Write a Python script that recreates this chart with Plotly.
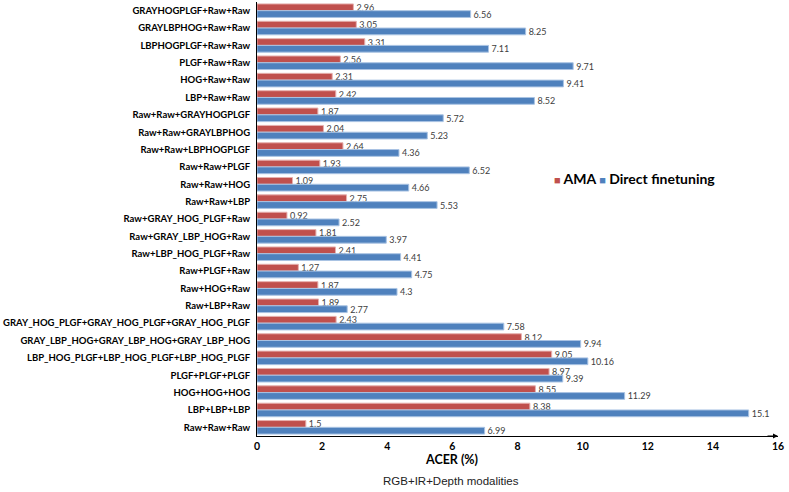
import plotly.graph_objects as go

# combinations, top to bottom as in the figure
combos = [
    'GRAYHOGPLGF+Raw+Raw', 'GRAYLBPHOG+Raw+Raw', 'LBPHOGPLGF+Raw+Raw',
    'PLGF+Raw+Raw', 'HOG+Raw+Raw', 'LBP+Raw+Raw',
    'Raw+Raw+GRAYHOGPLGF', 'Raw+Raw+GRAYLBPHOG', 'Raw+Raw+LBPHOGPLGF',
    'Raw+Raw+PLGF', 'Raw+Raw+HOG', 'Raw+Raw+LBP',
    'Raw+GRAY_HOG_PLGF+Raw', 'Raw+GRAY_LBP_HOG+Raw', 'Raw+LBP_HOG_PLGF+Raw',
    'Raw+PLGF+Raw', 'Raw+HOG+Raw', 'Raw+LBP+Raw',
    'GRAY_HOG_PLGF+GRAY_HOG_PLGF+GRAY_HOG_PLGF',
    'GRAY_LBP_HOG+GRAY_LBP_HOG+GRAY_LBP_HOG',
    'LBP_HOG_PLGF+LBP_HOG_PLGF+LBP_HOG_PLGF',
    'PLGF+PLGF+PLGF', 'HOG+HOG+HOG', 'LBP+LBP+LBP', 'Raw+Raw+Raw',
]
ama = [2.96, 3.05, 3.31, 2.56, 2.31, 2.42, 1.87, 2.04, 2.64, 1.93, 1.09, 2.75,
       0.92, 1.81, 2.41, 1.27, 1.87, 1.89, 2.43, 8.12, 9.05, 8.97, 8.55, 8.38, 1.5]
direct = [6.56, 8.25, 7.11, 9.71, 9.41, 8.52, 5.72, 5.23, 4.36, 6.52, 4.66, 5.53,
          2.52, 3.97, 4.41, 4.75, 4.3, 2.77, 7.58, 9.94, 10.16, 9.39, 11.29, 15.1, 6.99]
x_ticks = [0, 2, 4, 6, 8, 10, 12, 14, 16]

red = '#C0504D'
blue = '#4F81BD'
val_font = dict(family='Lato', size=9, color='#404040')

fig = go.Figure()
fig.add_trace(go.Bar(y=combos, x=ama, orientation='h', name='AMA',
                     marker=dict(color=red, line=dict(color='#E6B0AE', width=1)),
                     text=[str(v) for v in ama], textposition='outside',
                     constraintext='none', textfont=val_font, outsidetextfont=val_font,
                     cliponaxis=False))
fig.add_trace(go.Bar(y=combos, x=direct, orientation='h', name='Direct finetuning',
                     marker=dict(color=blue, line=dict(color='#A9C3E3', width=1)),
                     text=[str(v) for v in direct], textposition='outside',
                     constraintext='none', textfont=val_font, outsidetextfont=val_font,
                     cliponaxis=False))

fig.update_layout(
    width=789, height=492,
    margin=dict(l=257, r=11, t=2, b=56),
    plot_bgcolor='white', paper_bgcolor='white',
    barmode='group', bargap=0.22, bargroupgap=0,
    font=dict(family='Lato', color='#000000'),
    showlegend=False,
    xaxis=dict(range=[0, 16], tickvals=x_ticks, showgrid=False, zeroline=False,
               showline=True, linecolor='#000000', linewidth=1, ticks='',
               automargin=False,
               tickfont=dict(family='Lato', size=10.5, weight='bold')),
    yaxis=dict(autorange='reversed', showgrid=False, showline=True, linecolor='#000000',
               linewidth=1, ticks='', automargin=False, ticklabelstandoff=4,
               tickfont=dict(family='Lato', size=9.5, weight='bold')),
)

# legend drawn as one text line
fig.add_annotation(x=0.566, y=0.594, xref='paper', yref='paper', xanchor='left',
                   yanchor='middle', showarrow=False,
                   text=f"<span style='color:{red};font-size:11px'>■</span> AMA "
                        f"<span style='color:{blue};font-size:11px'>■</span> Direct finetuning",
                   font=dict(family='Lato', size=14, weight='bold', color='#000000'))
# arrow head at the end of the x axis
fig.add_annotation(x=16, y=0, xref='x', yref='paper', ax=-12, ay=0,
                   axref='pixel', ayref='pixel', showarrow=True, arrowhead=2,
                   arrowsize=1, arrowwidth=1, arrowcolor='#000000', text='')
fig.add_annotation(x=0.373, y=-0.055, xref='paper', yref='paper', text='ACER (%)',
                   showarrow=False, yanchor='middle',
                   font=dict(family='Lato', size=12.5, weight='bold', color='#000000'))
fig.add_annotation(x=0.373, y=-0.103, xref='paper', yref='paper',
                   text='RGB+IR+Depth modalities', showarrow=False, yanchor='middle',
                   font=dict(family='Liberation Sans', size=11.5, color='#222222'))

fig.write_html('out.html', config={'displayModeBar': False},
               post_script="document.body.style.margin='0';")
